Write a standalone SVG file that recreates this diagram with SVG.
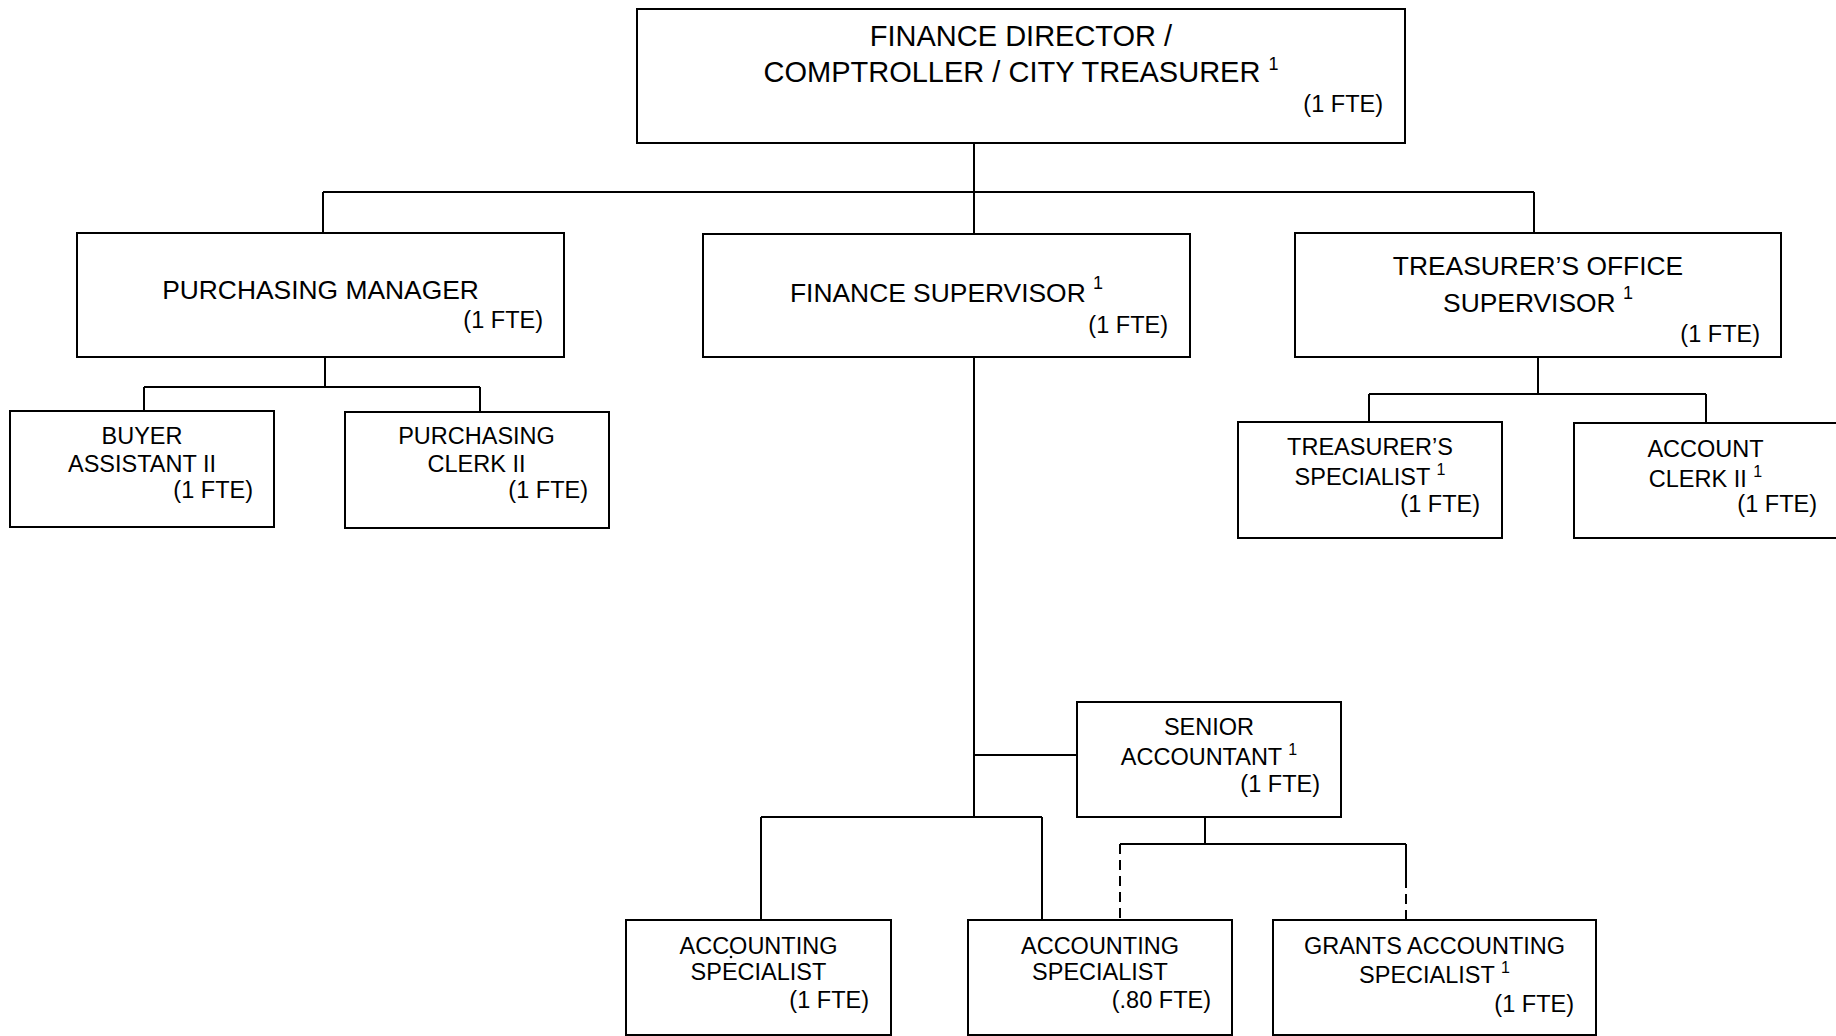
<svg xmlns="http://www.w3.org/2000/svg" width="1836" height="1036" viewBox="0 0 1836 1036">
<style>
.box{fill:#fff;stroke:#000;stroke-width:2}
.ln{stroke:#000;stroke-width:2;fill:none}
.dash{stroke-dasharray:10 6}
text{font-family:"Liberation Sans",Arial,sans-serif;fill:#000}
.t29{font-size:29px}
.t26{font-size:26.4px}
.t23{font-size:23.5px}
.c{text-anchor:middle}
.r{text-anchor:end}
.sb{font-size:18px}
.ss{font-size:16px}
</style>
<rect width="1836" height="1036" fill="#fff"/>
<g id="connectors">
<path class="ln" d="M974 143V192 M323 192H1534 M323 192V233 M974 192V234 M1534 192V233"/>
<path class="ln" d="M325 357V387 M144 387H480 M144 387V411 M480 387V412"/>
<path class="ln" d="M974 357V817 M974 755H1077 M761 817H1042 M761 817V920 M1042 817V920"/>
<path class="ln" d="M1205 817V844 M1120 844H1406 M1406 844V878"/>
<path class="ln dash" d="M1120 844V920 M1406 878V921"/>
<path class="ln" d="M1538 357V394 M1369 394H1706 M1369 394V422 M1706 394V423"/>
</g>
<g id="finance-director">
<rect class="box" x="637" y="9" width="768" height="134"/>
<text class="t29 c" x="1021" y="46">FINANCE DIRECTOR /</text>
<text class="t29 c" x="1021" y="82">COMPTROLLER / CITY TREASURER <tspan class="sb" dy="-12">1</tspan></text>
<text class="t23 r" x="1383" y="112">(1 FTE)</text>
</g>
<g id="purchasing-manager">
<rect class="box" x="77" y="233" width="487" height="124"/>
<text class="t26 c" x="320.5" y="299">PURCHASING MANAGER</text>
<text class="t23 r" x="543" y="328">(1 FTE)</text>
</g>
<g id="finance-supervisor">
<rect class="box" x="703" y="234" width="487" height="123"/>
<text class="t26 c" x="946.5" y="302">FINANCE SUPERVISOR <tspan class="sb" dy="-13">1</tspan></text>
<text class="t23 r" x="1168" y="333">(1 FTE)</text>
</g>
<g id="treasurers-office-supervisor">
<rect class="box" x="1295" y="233" width="486" height="124"/>
<text class="t26 c" x="1538" y="275">TREASURER’S OFFICE</text>
<text class="t26 c" x="1538" y="312">SUPERVISOR <tspan class="sb" dy="-13">1</tspan></text>
<text class="t23 r" x="1760" y="342">(1 FTE)</text>
</g>
<g id="buyer-assistant">
<rect class="box" x="10" y="411" width="264" height="116"/>
<text class="t23 c" x="142" y="444">BUYER</text>
<text class="t23 c" x="142" y="472">ASSISTANT II</text>
<text class="t23 r" x="253" y="498">(1 FTE)</text>
</g>
<g id="purchasing-clerk">
<rect class="box" x="345" y="412" width="264" height="116"/>
<text class="t23 c" x="476.5" y="444">PURCHASING</text>
<text class="t23 c" x="476.5" y="472">CLERK II</text>
<text class="t23 r" x="588" y="498">(1 FTE)</text>
</g>
<g id="treasurers-specialist">
<rect class="box" x="1238" y="422" width="264" height="116"/>
<text class="t23 c" x="1370" y="455">TREASURER’S</text>
<text class="t23 c" x="1370" y="485">SPECIALIST <tspan class="ss" dy="-10">1</tspan></text>
<text class="t23 r" x="1480" y="512">(1 FTE)</text>
</g>
<g id="account-clerk">
<rect class="box" x="1574" y="423" width="270" height="115"/>
<text class="t23 c" x="1705.5" y="457">ACCOUNT</text>
<text class="t23 c" x="1705.5" y="487">CLERK II <tspan class="ss" dy="-10">1</tspan></text>
<text class="t23 r" x="1817" y="512">(1 FTE)</text>
</g>
<g id="senior-accountant">
<rect class="box" x="1077" y="702" width="264" height="115"/>
<text class="t23 c" x="1209" y="735">SENIOR</text>
<text class="t23 c" x="1209" y="765">ACCOUNTANT <tspan class="ss" dy="-10">1</tspan></text>
<text class="t23 r" x="1320" y="792">(1 FTE)</text>
</g>
<g id="accounting-specialist-1">
<rect class="box" x="626" y="920" width="265" height="115"/>
<text class="t23 c" x="758.5" y="954">ACCOUNTING</text>
<circle cx="731" cy="957" r="1.3" fill="#000"/>
<text class="t23 c" x="758.5" y="980">SPECIALIST</text>
<text class="t23 r" x="869" y="1008">(1 FTE)</text>
</g>
<g id="accounting-specialist-2">
<rect class="box" x="968" y="920" width="264" height="115"/>
<text class="t23 c" x="1100" y="954">ACCOUNTING</text>
<text class="t23 c" x="1100" y="980">SPECIALIST</text>
<text class="t23 r" x="1211" y="1008">(.80 FTE)</text>
</g>
<g id="grants-accounting-specialist">
<rect class="box" x="1273" y="920" width="323" height="115"/>
<text class="t23 c" x="1434.5" y="954">GRANTS ACCOUNTING</text>
<text class="t23 c" x="1434.5" y="983">SPECIALIST <tspan class="ss" dy="-10">1</tspan></text>
<text class="t23 r" x="1574" y="1012">(1 FTE)</text>
</g>
</svg>
